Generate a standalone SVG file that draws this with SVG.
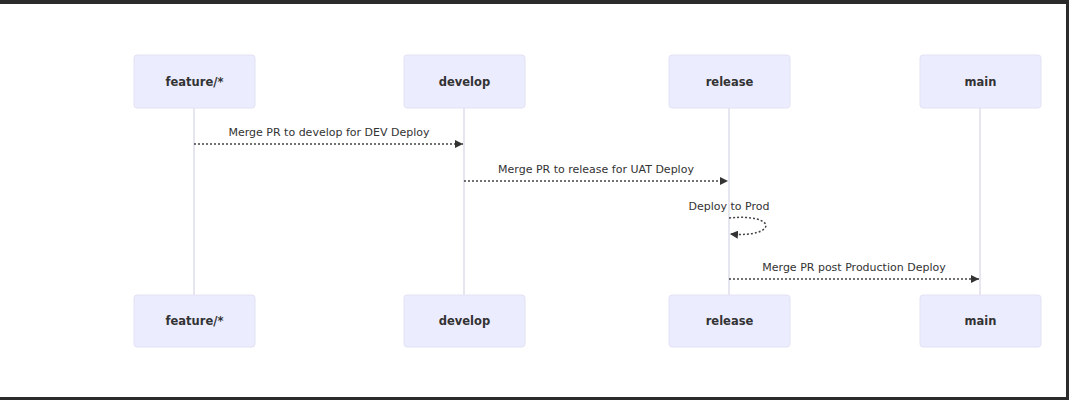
<svg xmlns="http://www.w3.org/2000/svg" width="1069" height="400" viewBox="0 0 1069 400">
<defs>
<style>
.actor{fill:#ECECFF;stroke:#e2e2f4;stroke-width:1}
.atext{font-family:"DejaVu Sans","Open Sans",sans-serif;font-size:11.5px;font-weight:bold;fill:#333;text-anchor:middle;dominant-baseline:central}
.life{stroke:#d6d6e6;stroke-width:1.2}
.msg{stroke:#444;stroke-width:1.5;stroke-dasharray:2,2;fill:none}
.mtext{font-family:"DejaVu Sans","Open Sans",sans-serif;font-size:11px;fill:#333;text-anchor:middle}
</style>
<marker id="ah" viewBox="0 0 10 10" refX="10" refY="5" markerWidth="8" markerHeight="8" markerUnits="userSpaceOnUse" orient="auto">
<path d="M0,0 L10,5 L0,10 z" fill="#333"/>
</marker>
</defs>
<rect x="0" y="0" width="1069" height="400" fill="#fff"/>
<rect x="0" y="0" width="1069" height="4" fill="#2b2b2b"/>
<rect x="1066" y="0" width="3" height="400" fill="#2b2b2b"/>
<rect x="0" y="397" width="1069" height="3" fill="#2b2b2b"/>
<g id="lifelines">
<line class="life" x1="194" y1="108" x2="194" y2="295"/>
<line class="life" x1="464" y1="108" x2="464" y2="295"/>
<line class="life" x1="729" y1="108" x2="729" y2="295"/>
<line class="life" x1="980" y1="108" x2="980" y2="295"/>
</g>
<g id="feature-top"><rect class="actor" x="134" y="55" width="121" height="53" rx="3"/><text class="atext" x="194.5" y="81.5">feature/*</text></g>
<g id="develop-top"><rect class="actor" x="404" y="55" width="121" height="53" rx="3"/><text class="atext" x="464.5" y="81.5">develop</text></g>
<g id="release-top"><rect class="actor" x="669" y="55" width="121" height="53" rx="3"/><text class="atext" x="729.5" y="81.5">release</text></g>
<g id="main-top"><rect class="actor" x="920" y="55" width="121" height="53" rx="3"/><text class="atext" x="980.5" y="81.5">main</text></g>
<g id="feature-bottom"><rect class="actor" x="134" y="295" width="121" height="52" rx="3"/><text class="atext" x="194.5" y="321">feature/*</text></g>
<g id="develop-bottom"><rect class="actor" x="404" y="295" width="121" height="52" rx="3"/><text class="atext" x="464.5" y="321">develop</text></g>
<g id="release-bottom"><rect class="actor" x="669" y="295" width="121" height="52" rx="3"/><text class="atext" x="729.5" y="321">release</text></g>
<g id="main-bottom"><rect class="actor" x="920" y="295" width="121" height="52" rx="3"/><text class="atext" x="980.5" y="321">main</text></g>
<g id="connectors">
<line class="msg" x1="194" y1="144" x2="463" y2="144" marker-end="url(#ah)"/>
<text class="mtext" x="329" y="136">Merge PR to develop for DEV Deploy</text>
<line class="msg" x1="464" y1="181" x2="728" y2="181" marker-end="url(#ah)"/>
<text class="mtext" x="596" y="173">Merge PR to release for UAT Deploy</text>
<path class="msg" d="M729,218 C778,213 778,238 730,234" marker-end="url(#ah)"/>
<text class="mtext" x="729" y="210">Deploy to Prod</text>
<line class="msg" x1="729" y1="279" x2="979" y2="279" marker-end="url(#ah)"/>
<text class="mtext" x="854" y="271">Merge PR post Production Deploy</text>
</g>
</svg>
